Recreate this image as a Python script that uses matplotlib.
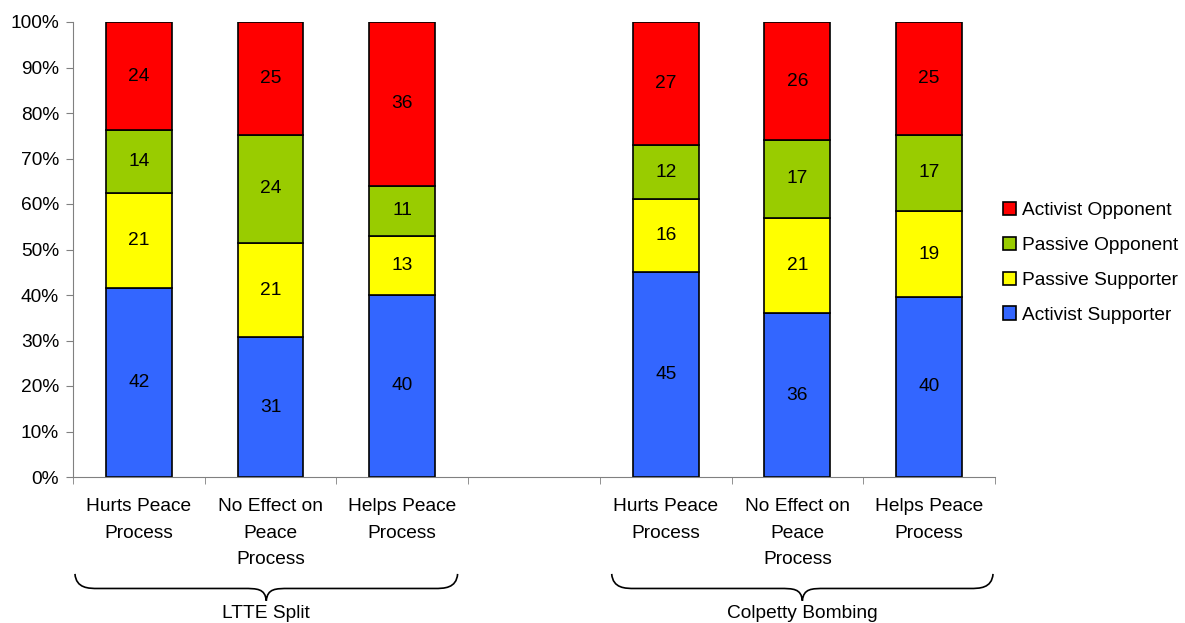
import matplotlib
matplotlib.use("Agg")
import matplotlib.pyplot as plt
import matplotlib.transforms as mtransforms
from matplotlib.path import Path
from matplotlib.patches import PathPatch
import numpy as np

plt.rcParams['font.family'] = ['Liberation Sans', 'DejaVu Sans']

categories = ["Hurts Peace\nProcess", "No Effect on\nPeace\nProcess", "Helps Peace\nProcess", "",
              "Hurts Peace\nProcess", "No Effect on\nPeace\nProcess", "Helps Peace\nProcess"]
activist_supporter = [42, 31, 40, None, 45, 36, 40]
passive_supporter = [21, 21, 13, None, 16, 21, 19]
passive_opponent = [14, 24, 11, None, 12, 17, 17]
activist_opponent = [24, 25, 36, None, 27, 26, 25]
groups = ["LTTE Split", "Colpetty Bombing"]

series = [("Activist Supporter", activist_supporter, "#3366FF"),
          ("Passive Supporter", passive_supporter, "#FFFF00"),
          ("Passive Opponent", passive_opponent, "#99CC00"),
          ("Activist Opponent", activist_opponent, "#FF0000")]

FS = 13.8

fig = plt.figure(figsize=(11.85, 6.23), dpi=100)
ax = fig.add_axes([73/1185, 1-477/623, (995-73)/1185, (477-22)/623])

x = np.arange(len(categories))
idx = [i for i in range(len(categories)) if activist_supporter[i] is not None]
totals = {i: sum(s[1][i] for s in series) for i in idx}
bottoms = {i: 0.0 for i in idx}
handles = []
for name, vals, color in series:
    xs = [x[i] for i in idx]
    hs = [vals[i] / totals[i] * 100 for i in idx]
    bs = [bottoms[i] for i in idx]
    b = ax.bar(xs, hs, bottom=bs, width=0.5, color=color, edgecolor="black", linewidth=1.2, label=name)
    handles.append(b)
    for xi, h, bo, i in zip(xs, hs, bs, idx):
        ax.text(xi, bo + h / 2, str(vals[i]), ha="center", va="center", fontsize=FS)
        bottoms[i] += h

ax.set_xlim(-0.5, len(categories) - 0.5)
ax.set_ylim(0, 100)
ax.set_yticks(np.arange(0, 101, 10))
ax.set_yticklabels([f"{v}%" for v in range(0, 101, 10)], fontsize=FS)
ax.set_xticks(x)
ax.set_xticklabels(categories, fontsize=FS, linespacing=1.75)
ax.set_xticks(np.arange(-0.5, len(categories), 1), minor=True)
ax.tick_params(axis="x", which="major", length=0, pad=15)
ax.tick_params(axis="x", which="minor", length=5, direction="out", color="#808080")
ax.tick_params(axis="y", length=5, direction="out", color="#808080", pad=5)
for s in ["top", "right"]:
    ax.spines[s].set_visible(False)
ax.spines["left"].set_color("#808080")
ax.spines["bottom"].set_color("#808080")

leg = fig.legend(handles[::-1], [s[0] for s in series][::-1], loc="upper left",
                 bbox_to_anchor=(995/1185, 1-194/623), frameon=False, fontsize=FS,
                 handlelength=0.68, handleheight=0.68, handletextpad=0.35, labelspacing=0.92,
                 borderaxespad=0, borderpad=0.4)

trans = mtransforms.blended_transform_factory(ax.transData, ax.transAxes)

def brace(x0, x1, label):
    ytop, ymid, ytip = -0.213, -0.245, -0.272
    xm = (x0 + x1) / 2
    w = x1 - x0
    c = 0.06 * w
    verts = [(x0, ytop),
             (x0 + 0.05 * c, ymid), (x0 + 0.6 * c, ymid), (x0 + c, ymid),
             (xm - c, ymid),
             (xm - 0.4 * c, ymid), (xm - 0.05 * c, ymid), (xm, ytip),
             (xm + 0.05 * c, ymid), (xm + 0.4 * c, ymid), (xm + c, ymid),
             (x1 - c, ymid),
             (x1 - 0.6 * c, ymid), (x1 - 0.05 * c, ymid), (x1, ytop)]
    codes = [Path.MOVETO, Path.CURVE4, Path.CURVE4, Path.CURVE4, Path.LINETO,
             Path.CURVE4, Path.CURVE4, Path.CURVE4,
             Path.CURVE4, Path.CURVE4, Path.CURVE4, Path.LINETO,
             Path.CURVE4, Path.CURVE4, Path.CURVE4]
    p = PathPatch(Path(verts, codes), transform=trans, facecolor="none",
                  edgecolor="black", linewidth=1.2, clip_on=False)
    ax.add_patch(p)
    ax.text(xm, -0.3, label, transform=trans, ha="center", va="center", fontsize=FS)

brace(-0.485, 2.42, groups[0])
brace(3.59, 6.485, groups[1])

fig.savefig("out.png", dpi=100)
